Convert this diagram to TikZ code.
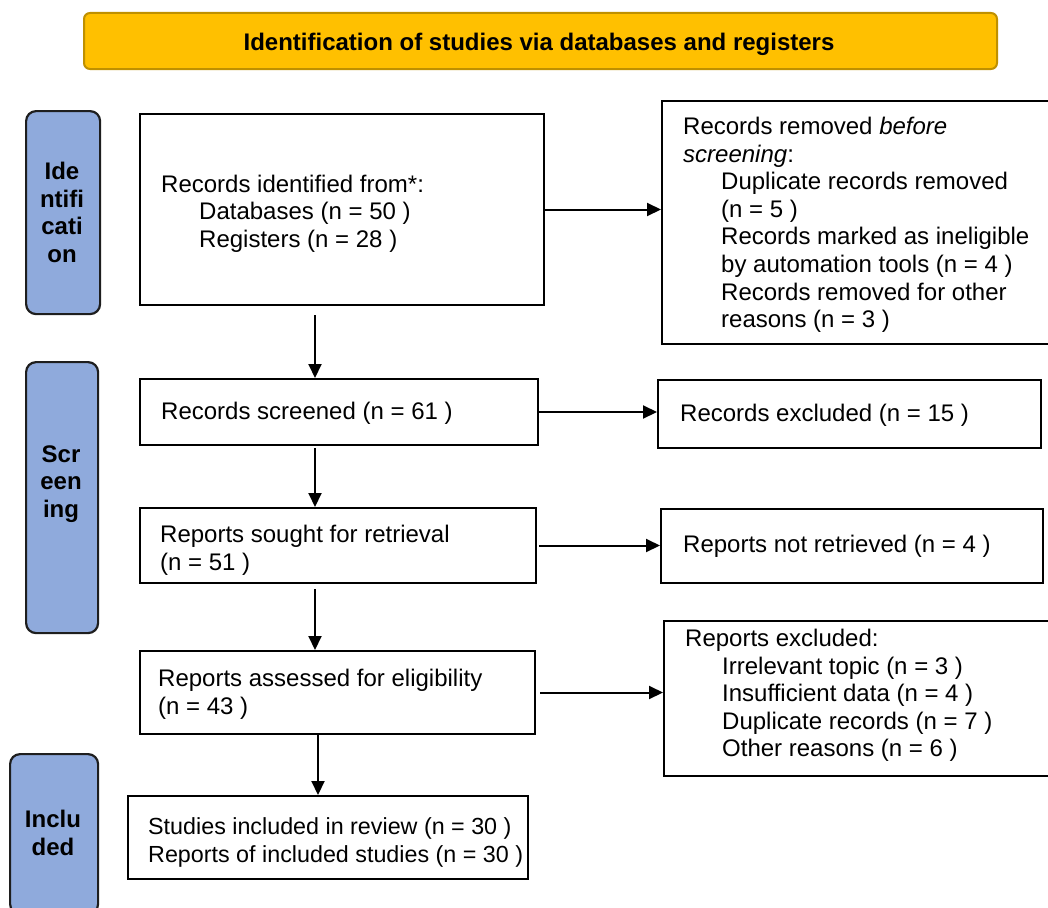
\documentclass[tikz,border=0pt]{standalone}
\usepackage{fontspec}
\setmainfont{Liberation Sans}
\usetikzlibrary{arrows.meta,calc}
\definecolor{bannerfill}{HTML}{FFC000}
\definecolor{bannerline}{HTML}{BF9000}
\definecolor{phasefill}{HTML}{8FAADC}
\definecolor{phaseline}{HTML}{1E1E1E}
\begin{document}
\begin{tikzpicture}[x=1pt,y=-1pt,
  box/.style={draw=black, line width=2pt, inner sep=0pt, anchor=north west},
  phase/.style={draw=phaseline, fill=phasefill, line width=2.2pt, rounded corners=10pt, inner sep=0pt, anchor=north west},
  banner/.style={draw=bannerline, fill=bannerfill, line width=2pt, rounded corners=6pt, inner sep=0pt, anchor=north west},
  txt/.style={anchor=west, align=left, inner sep=0pt, font=\fontsize{24}{27.6}\selectfont},
  ptxt/.style={align=center, inner sep=0pt, font=\fontsize{24}{27.6}\selectfont\bfseries},
  arr/.style={line width=2pt, -{Triangle[length=14pt,width=13pt]}}]
\useasboundingbox (0,0) rectangle (1048,907);
\begin{scope}
\clip (0,0) rectangle (1048,907);
% banner
\node[banner, minimum width=913pt, minimum height=56pt] (ban) at (83,12) {};
\node[ptxt] (bantxt) at (539,44.4) {Identification of studies via databases and registers};
% phase labels
\node[phase, minimum width=74pt, minimum height=203pt] (pid) at (25,110) {};
\node[ptxt] (pidtxt) at (62,212.5) {Ide\\ntifi\\cati\\on};
\node[phase, minimum width=72pt, minimum height=271pt] (pscr) at (25,361) {};
\node[ptxt] (pscrtxt) at (61,483.8) {Scr\\een\\ing};
\node[phase, minimum width=88pt, minimum height=160pt] (pinc) at (9,753) {};
\node[ptxt] (pinctxt) at (53,833) {Inclu\\ded};
% boxes
\node[box, minimum width=404pt, minimum height=191pt] (id) at (139,113) {};
\node[txt] (idt) at (161,213.4) {Records identified from*:\\\hspace*{38pt}Databases (n = 50 )\\\hspace*{38pt}Registers (n = 28 )};
\node[box, minimum width=395pt, minimum height=243pt] (rem) at (661,100) {};
\node[txt] (remt) at (683,224.9) {Records removed \textit{before}\\\textit{screening}:\\\hspace*{38pt}Duplicate records removed\\\hspace*{38pt}(n = 5 )\\\hspace*{38pt}Records marked as ineligible\\\hspace*{38pt}by automation tools (n = 4 )\\\hspace*{38pt}Records removed for other\\\hspace*{38pt}reasons (n = 3 )};
\node[box, minimum width=398pt, minimum height=66pt] (scr) at (139,378) {};
\node[txt] (scrt) at (161,413.4) {Records screened (n = 61 )};
\node[box, minimum width=383pt, minimum height=68pt] (exc) at (657,379) {};
\node[txt] (exct) at (680,415.4) {Records excluded (n = 15 )};
\node[box, minimum width=396pt, minimum height=75pt] (sou) at (139,507) {};
\node[txt] (sout) at (160,550.4) {Reports sought for retrieval\\(n = 51 )};
\node[box, minimum width=382pt, minimum height=74pt] (nr) at (660,508) {};
\node[txt] (nrt) at (683,546.4) {Reports not retrieved (n = 4 )};
\node[box, minimum width=395pt, minimum height=83pt] (ass) at (139,650) {};
\node[txt] (asst) at (158,694.4) {Reports assessed for eligibility\\(n = 43 )};
\node[box, minimum width=393pt, minimum height=155pt] (rex) at (663,620) {};
\node[txt] (rext) at (685,695.4) {Reports excluded:\\\hspace*{37pt}Irrelevant topic (n = 3 )\\\hspace*{37pt}Insufficient data (n = 4 )\\\hspace*{37pt}Duplicate records (n = 7 )\\\hspace*{37pt}Other reasons (n = 6 )};
\node[box, minimum width=400pt, minimum height=83pt] (inc) at (127,795) {};
\node[txt, font=\fontsize{23.3}{27.6}\selectfont] (inct) at (148,842.4) {Studies included in review (n = 30 )\\Reports of included studies (n = 30 )};
% connectors
\coordinate (xa) at (315,0);
\coordinate (xb) at (318,0);
\draw[arr, shorten <=9pt] (id.south -| xa) -- (scr.north -| xa);
\draw[arr, shorten <=2pt] (scr.south -| xa) -- (sou.north -| xa);
\draw[arr, shorten <=5pt] (sou.south -| xa) -- (ass.north -| xa);
\draw[arr] (ass.south -| xb) -- (inc.north -| xb);
\draw[arr] (id.east) -- (id.east -| rem.west);
\draw[arr] (scr.east) -- (scr.east -| exc.west);
\draw[arr, shorten <=2pt] (sou.east) -- (sou.east -| nr.west);
\draw[arr, shorten <=4pt] (ass.east) -- (ass.east -| rex.west);
\end{scope}
\end{tikzpicture}
\end{document}
